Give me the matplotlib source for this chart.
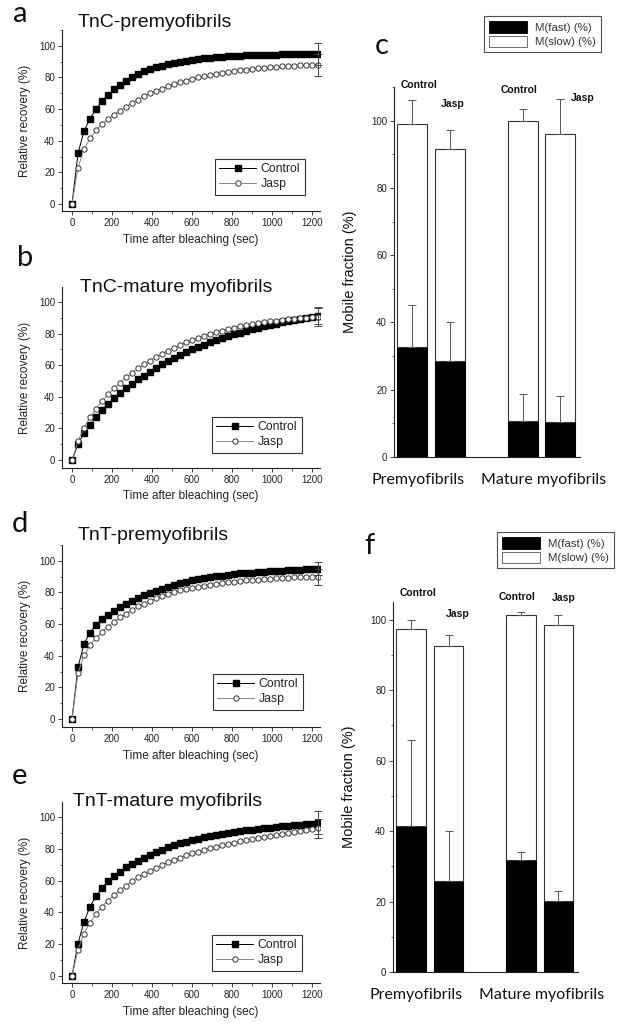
import matplotlib.pyplot as plt
from matplotlib.patches import Patch
from matplotlib.ticker import MultipleLocator

plt.rcParams['font.family'] = ['Liberation Sans', 'DejaVu Sans']

# ---- FRAP recovery curves (time in sec, recovery in %) ----
time_sec = [0, 30, 60, 90, 120, 150, 180, 210, 240, 270, 300, 330, 360, 390,
            420, 450, 480, 510, 540, 570, 600, 630, 660, 690, 720, 750, 780,
            810, 840, 870, 900, 930, 960, 990, 1020, 1050, 1080, 1110, 1140,
            1170, 1200, 1230]

tnc_pre_ctrl = [0, 32, 46, 54, 60, 65, 69, 72.5, 75.5, 78, 80.5, 82.5, 84, 85.5,
                86.5, 87.5, 88.5, 89.3, 90, 90.7, 91.3, 91.8, 92.2, 92.6, 92.9,
                93.2, 93.4, 93.6, 93.8, 94, 94.1, 94.2, 94.3, 94.4, 94.5, 94.6,
                94.6, 94.7, 94.7, 94.8, 94.8, 94.8]
tnc_pre_jasp = [0, 23, 34.5, 41.5, 46.5, 50.5, 53.5, 56.5, 59, 61.5, 64, 66, 68,
                70, 71.5, 73, 74.5, 75.8, 77, 78, 79, 80, 80.8, 81.6, 82.3, 83,
                83.6, 84.1, 84.6, 85, 85.4, 85.8, 86.1, 86.4, 86.7, 87, 87.2,
                87.4, 87.6, 87.8, 88, 88.1]

tnc_mat_ctrl = [0, 10, 17, 22.5, 27, 31.5, 35.5, 39, 42.3, 45.3, 48.2, 51, 53.5,
                56, 58.3, 60.5, 62.6, 64.6, 66.5, 68.3, 70, 71.6, 73.1, 74.5,
                75.9, 77.2, 78.4, 79.6, 80.7, 81.8, 82.8, 83.7, 84.6, 85.5, 86.3,
                87.1, 87.8, 88.5, 89.2, 89.8, 90.4, 91]
tnc_mat_jasp = [0, 12, 20.5, 27, 32.5, 37.5, 41.5, 45.3, 49, 52.3, 55.3, 58,
                60.5, 63, 65.2, 67.3, 69.3, 71.1, 72.8, 74.4, 75.9, 77.3, 78.6,
                79.8, 80.9, 81.9, 82.9, 83.8, 84.6, 85.3, 86, 86.6, 87.2, 87.7,
                88.2, 88.7, 89.1, 89.5, 89.9, 90.2, 90.5, 90.8]

tnt_pre_ctrl = [0, 32.8, 47.4, 54.7, 59.4, 63.2, 65.9, 68.4, 70.7, 72.8, 74.7,
                76.4, 78.1, 79.6, 81, 82.3, 83.6, 84.8, 85.9, 86.7, 87.6, 88.3,
                89, 89.6, 90.2, 90.7, 91.2, 91.6, 92, 92.3, 92.6, 92.9, 93.2,
                93.4, 93.6, 93.8, 94, 94.2, 94.4, 94.6, 94.8, 95]
tnt_pre_jasp = [0, 29, 40.2, 46.5, 51.2, 55, 58.5, 61.5, 64.2, 66.7, 69, 71.2,
                73, 74.7, 76.2, 77.7, 79, 80.2, 81.3, 82.1, 83, 83.7, 84.4, 85,
                85.5, 86, 86.5, 86.9, 87.3, 87.6, 87.9, 88.2, 88.5, 88.7, 88.9,
                89.1, 89.3, 89.5, 89.7, 89.8, 89.9, 90]

tnt_mat_ctrl = [0, 20.4, 34.1, 43.6, 50.1, 55.4, 59.6, 62.9, 65.7, 68.4, 70.5,
                72.6, 74.5, 76.2, 77.9, 79.4, 80.8, 82.1, 83.4, 84.4, 85.5, 86.4,
                87.2, 88, 88.7, 89.4, 90, 90.6, 91.1, 91.6, 92.1, 92.5, 92.9,
                93.3, 93.7, 94, 94.4, 94.7, 95, 95.4, 95.8, 96.5]
tnt_mat_jasp = [0, 16.6, 26.7, 33.5, 39, 43.6, 47.4, 50.7, 53.9, 56.8, 59.6,
                62.1, 64.2, 66.3, 68.2, 69.9, 71.6, 73.1, 74.5, 75.8, 77.1, 78.2,
                79.3, 80.3, 81.3, 82.2, 83.1, 83.9, 84.7, 85.4, 86.1, 86.8, 87.4,
                88, 88.6, 89.2, 89.8, 90.4, 91, 91.6, 92.2, 93]

# error bars shown at the last time point (ctrl, jasp)
tnc_pre_err = [7, 7]
tnc_mat_err = [5, 6]
tnt_pre_err = [4, 5]
tnt_mat_err = [7, 6]

# ---- mobile fractions (%) ----
bar_groups = ['Premyofibrils', 'Mature myofibrils']
bar_labels = ['Control', 'Jasp', 'Control', 'Jasp']

tnc_fast = [32.8, 28.4, 10.8, 10.3]
tnc_fast_err = [12.4, 11.6, 8, 7.9]
tnc_slow = [66.2, 63.1, 89.1, 85.6]
tnc_total_err = [7, 5.7, 3.6, 10.6]

tnt_fast = [41.4, 25.9, 31.9, 20.2]
tnt_fast_err = [24.3, 14.1, 2.2, 2.8]
tnt_slow = [55.9, 66.7, 69.4, 78.3]
tnt_total_err = [2.7, 3, 0.9, 2.8]

W, H = 623, 1029
fig = plt.figure(figsize=(W / 100, H / 100), dpi=100)


def box(l, t, r, b):
    return [l / W, 1 - b / H, (r - l) / W, (b - t) / H]


def style_axes(ax):
    for s in ['top', 'right']:
        ax.spines[s].set_visible(False)
    for s in ['left', 'bottom']:
        ax.spines[s].set_linewidth(0.8)
        ax.spines[s].set_color('#222222')
    ax.tick_params(which='major', direction='out', length=3, width=0.6,
                   labelsize=7, colors='#222222', pad=2)
    ax.tick_params(which='minor', direction='out', length=1.8, width=0.5,
                   colors='#222222')


def line_panel(rect, ctrl, jasp, err, ylim, title, title_xy, letter_xy, leg_xy, letter):
    ax = fig.add_axes(box(*rect))
    ax.plot(time_sec, ctrl, '-s', color='black', lw=0.7, ms=3.8, label='Control')
    ax.plot(time_sec, jasp, '-o', color='#888888', mec='#333333', mfc='white',
            lw=0.7, ms=3.8, mew=0.7, label='Jasp')
    ax.errorbar([time_sec[-1]], [ctrl[-1]], yerr=[err[0]], fmt='none',
                ecolor='#444444', elinewidth=0.7, capsize=3, capthick=0.7, clip_on=False)
    ax.errorbar([time_sec[-1]], [jasp[-1]], yerr=[err[1]], fmt='none',
                ecolor='#444444', elinewidth=0.7, capsize=3, capthick=0.7, clip_on=False)
    ax.set_xlim(-50, 1240)
    ax.set_ylim(*ylim)
    ax.xaxis.set_major_locator(MultipleLocator(200))
    ax.xaxis.set_minor_locator(MultipleLocator(100))
    ax.yaxis.set_major_locator(MultipleLocator(20))
    ax.yaxis.set_minor_locator(MultipleLocator(10))
    style_axes(ax)
    ax.set_xlabel('Time after bleaching (sec)', fontsize=8.5, color='#222222', labelpad=4)
    ax.set_ylabel('Relative recovery (%)', fontsize=8.5, color='#222222', labelpad=6)
    leg = ax.legend(loc='upper left', bbox_to_anchor=(leg_xy[0] / W, 1 - leg_xy[1] / H),
                    bbox_transform=fig.transFigure, fontsize=8.8, frameon=True,
                    fancybox=False, edgecolor='black', handlelength=3.0,
                    handletextpad=0.4, borderpad=0.35, labelspacing=0.25,
                    borderaxespad=0)
    leg.get_frame().set_linewidth(0.8)
    for t in leg.get_texts():
        t.set_color('#222222')
    fig.text(title_xy[0] / W, 1 - title_xy[1] / H, title, fontsize=14,
             ha='left', va='center', color='#111111')
    fig.text(letter_xy[0] / W, 1 - letter_xy[1] / H, letter, fontsize=21,
             family='Lato', ha='center', va='center', color='#111111')
    return ax


def bar_panel(rect, fast, fast_err, slow, total_err, ylim, text_xy, letter_xy, leg_xy, letter):
    ax = fig.add_axes(box(*rect))
    pos = [0, 1, 2.92, 3.9]
    width = 0.78
    total = [f + s for f, s in zip(fast, slow)]
    ax.bar(pos, fast, width, color='black', edgecolor='black', lw=0.8, zorder=2)
    ax.bar(pos, slow, width, bottom=fast, color='white', edgecolor='#333333',
           lw=0.8, zorder=2)
    ax.errorbar(pos, fast, yerr=[[0] * 4, fast_err], fmt='none', ecolor='#555555',
                elinewidth=0.7, capsize=3, capthick=0.7, zorder=3)
    ax.errorbar(pos, total, yerr=[[0] * 4, total_err], fmt='none', ecolor='#555555',
                elinewidth=0.7, capsize=3, capthick=0.7, zorder=3, clip_on=False)
    ax.set_xlim(-0.47, 4.42)
    ax.set_ylim(*ylim)
    ax.set_xticks([])
    ax.yaxis.set_major_locator(MultipleLocator(20))
    ax.yaxis.set_minor_locator(MultipleLocator(10))
    style_axes(ax)
    ax.set_ylabel('Mobile fraction (%)', fontsize=10.5, color='#111111', labelpad=10)
    for (x, y), lab in zip(text_xy, bar_labels):
        ax.text(x, y, lab, fontsize=7.5, fontweight='bold', ha='center',
                va='center', color='#111111', clip_on=False)
    for x, g in zip([0.15, 3.45], bar_groups):
        ax.text(x, -0.062, g, transform=ax.get_xaxis_transform(), fontsize=11.5,
                family='Lato', ha='center', va='center', color='#111111')
    handles = [Patch(facecolor='black', edgecolor='black', lw=0.6),
               Patch(facecolor='white', edgecolor='#555555', lw=0.6)]
    leg = ax.legend(handles, ['M(fast) (%)', 'M(slow) (%)'], loc='upper left',
                    bbox_to_anchor=(leg_xy[0] / W, 1 - leg_xy[1] / H),
                    bbox_transform=fig.transFigure, fontsize=8.2, frameon=True,
                    fancybox=False, edgecolor='#222222', handlelength=3.3,
                    handleheight=1.2, handletextpad=0.7, borderpad=0.45,
                    labelspacing=0.25, borderaxespad=0)
    leg.get_frame().set_linewidth(0.8)
    for t in leg.get_texts():
        t.set_color('#333333')
    fig.text(letter_xy[0] / W, 1 - letter_xy[1] / H, letter, fontsize=21,
             family='Lato', ha='center', va='center', color='#111111')
    return ax


line_panel((62, 30, 320, 211), tnc_pre_ctrl, tnc_pre_jasp, tnc_pre_err,
           (-4.4, 110), 'TnC-premyofibrils', (78, 22), (20, 14), (215, 159), 'a')
line_panel((62, 287, 320, 468), tnc_mat_ctrl, tnc_mat_jasp, tnc_mat_err,
           (-5, 109.5), 'TnC-mature myofibrils', (80, 288), (25, 258), (212, 417), 'b')
line_panel((62, 545, 320, 727), tnt_pre_ctrl, tnt_pre_jasp, tnt_pre_err,
           (-5, 110), 'TnT-premyofibrils', (78, 535), (20, 524), (213, 674), 'd')
line_panel((62, 802, 320, 983), tnt_mat_ctrl, tnt_mat_jasp, tnt_mat_err,
           (-4.4, 109.4), 'TnT-mature myofibrils', (73, 802), (20, 776), (212, 935), 'e')

bar_panel((394, 87, 580, 457), tnc_fast, tnc_fast_err, tnc_slow, tnc_total_err,
          (0, 110), [(0.2, 110.7), (1.08, 105), (2.82, 109.2), (4.5, 106.8)],
          (382, 46), (484, 16), 'c')
bar_panel((393, 602, 578, 972), tnt_fast, tnt_fast_err, tnt_slow, tnt_total_err,
          (0, 105), [(0.2, 107.5), (1.24, 101.5), (2.82, 106.4), (4.03, 106.1)],
          (369, 546), (497, 532), 'f')

fig.savefig('out.png', dpi=100)
